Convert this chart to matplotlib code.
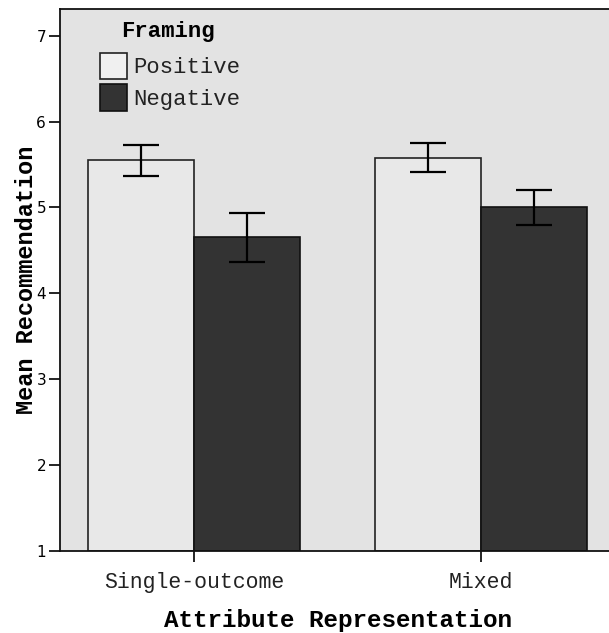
import matplotlib
matplotlib.use("Agg")
import matplotlib.pyplot as plt
import numpy as np
from matplotlib.patches import Patch

categories = ["Single-outcome", "Mixed"]
framing = ["Positive", "Negative"]
means_pos = [5.55, 5.58]
means_neg = [4.65, 5.00]
err_pos = [0.18, 0.17]
err_neg = [0.28, 0.20]
colors = ["#e8e8e8", "#333333"]

fig = plt.figure(figsize=(6.09, 6.33), dpi=100)
ax = fig.add_axes([60/609, 82/633, 555/609, 542/633])
ax.set_facecolor("#e3e3e3")

x = np.arange(len(categories))
w = 0.37
base = 1.0
ax.bar(x - w/2, np.array(means_pos) - base, w, bottom=base, color=colors[0],
       edgecolor="#222222", linewidth=1.2, zorder=2)
ax.bar(x + w/2, np.array(means_neg) - base, w, bottom=base, color=colors[1],
       edgecolor="#111111", linewidth=1.2, zorder=2)
ax.errorbar(x - w/2, means_pos, yerr=err_pos, fmt="none", ecolor="black",
            elinewidth=1.6, capsize=13, capthick=1.6, zorder=3)
ax.errorbar(x + w/2, means_neg, yerr=err_neg, fmt="none", ecolor="black",
            elinewidth=1.6, capsize=13, capthick=1.6, zorder=3)

ax.set_ylim(1, 7.31)
ax.set_xlim(-0.467, 1.467)
ax.set_yticks([1, 2, 3, 4, 5, 6, 7])
ax.set_yticklabels(["1", "2", "3", "4", "5", "6", "7"], fontsize=11, family="DejaVu Sans")
ax.set_xticks(x)
ax.set_xticklabels(categories, family="Liberation Mono", fontsize=15.5, color="#222222")
ax.tick_params(axis="y", length=8, width=1.2, pad=2)
ax.tick_params(axis="x", length=8, width=1.2, pad=7)
for s in ax.spines.values():
    s.set_linewidth(1.3)
    s.set_color("#111111")

ax.set_xlabel("Attribute Representation", family="Liberation Mono",
              fontweight="bold", fontsize=17.5, labelpad=12)
ax.set_ylabel("Mean Recommendation", family="Liberation Mono",
              fontweight="bold", fontsize=17, labelpad=-1)

handles = [Patch(facecolor="#f0f0f0", edgecolor="#222222", linewidth=1.2),
           Patch(facecolor=colors[1], edgecolor="#111111", linewidth=1.2)]
leg = ax.legend(handles, framing, loc="upper left",
                bbox_to_anchor=(0.072, 0.919), frameon=False, borderpad=0,
                borderaxespad=0,
                prop={"family": "Liberation Mono", "size": 16},
                handlelength=1.2, handleheight=1.45, handletextpad=0.3,
                labelspacing=0.23)
for t in leg.get_texts():
    t.set_color("#222222")
ax.text(0.195, 0.959, "Framing", transform=ax.transAxes, ha="center", va="center",
        family="Liberation Mono", fontweight="bold", fontsize=16)

fig.savefig("out.png", dpi=100)
